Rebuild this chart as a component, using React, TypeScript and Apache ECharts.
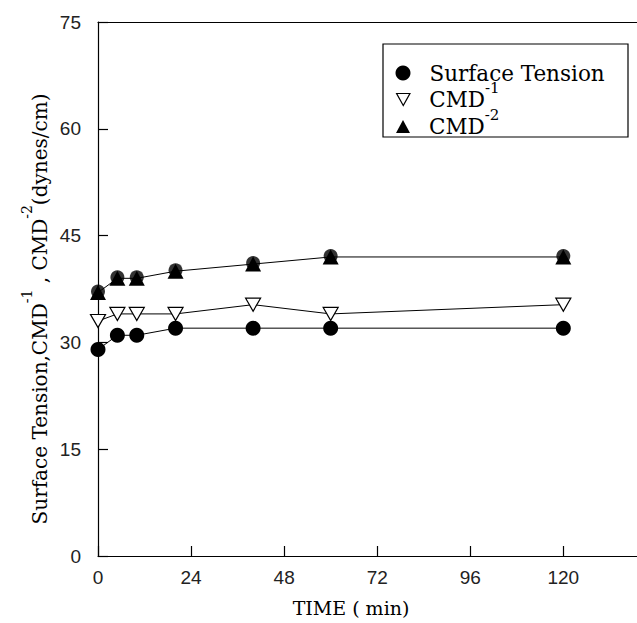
import React, { useEffect, useRef } from "react";
import * as echarts from "echarts";

const times = [0, 5, 10, 20, 40, 60, 120];
const surfaceTension = [29, 31, 31, 32, 32, 32, 32];
const cmdInv1 = [33, 34, 34, 34, 35.3, 34, 35.3];
const cmdInv2 = [37, 39, 39, 40, 41, 42, 42];
const xTickStep = 24;
const yTickStep = 15;
const xMax = 139;
const yMax = 75;
const yTitle = "{n|Surface Tension,CMD}{s|-1}{n| , CMD}{s|-2}{n|(dynes/cm)}";
const xTitle = "TIME ( min)";
const legendNames = ["Surface Tension", "CMD-1", "CMD-2"];

const SERIF = "'DejaVu Serif', serif";
const SANS = "'Liberation Sans', Arial, sans-serif";
const DOWN_TRI = "path://M0,0L10,0L5,9Z";

const pairs = (ys: number[]) => times.map((t, i) => [t, ys[i]]);

const richLegend = {
  n: { fontFamily: SERIF, fontSize: 21.5, color: "#000", padding: [0, 0, 0, 14] },
  s: { fontFamily: SERIF, fontSize: 15, color: "#000", padding: [0, 0, 24, 0] },
};

const hiddenAxisParts = {
  axisTick: { show: false },
  axisLabel: { show: false },
  splitLine: { show: false },
};

export default function App() {
  const ref = useRef<HTMLDivElement>(null);
  useEffect(() => {
    document.body.style.margin = "0";
    const chart = echarts.init(ref.current!, null, { renderer: "svg" });
    const legendBase = {
      orient: "horizontal",
      padding: 0,
      itemGap: 0,
      selectedMode: false,
      textStyle: { fontFamily: SERIF, fontSize: 21.5, color: "#000", rich: richLegend },
    };
    chart.setOption({
      animation: false,
      backgroundColor: "#fff",
      grid: {
        left: 98,
        top: 22,
        right: 0,
        bottom: 67,
        show: false,
      },
      xAxis: [
        {
          type: "value",
          min: 0,
          max: xMax,
          interval: xTickStep,
          axisLine: { show: true, onZero: false, lineStyle: { color: "#000", width: 1.2 } },
          axisTick: { show: true, inside: true, length: 10, lineStyle: { color: "#000", width: 1.2 } },
          splitLine: { show: false },
          axisLabel: { margin: 12, fontSize: 19, fontFamily: SANS, color: "#222", showMaxLabel: false },
        },
        {
          type: "value",
          position: "top",
          min: 0,
          max: xMax,
          interval: xTickStep,
          axisLine: { show: true, onZero: false, lineStyle: { color: "#000", width: 1.2 } },
          ...hiddenAxisParts,
        },
      ],
      yAxis: {
        type: "value",
        min: 0,
        max: yMax,
        interval: yTickStep,
        axisLine: { show: true, lineStyle: { color: "#000", width: 1.2 } },
        axisTick: { show: true, inside: true, length: 10, lineStyle: { color: "#000", width: 1.2 } },
        splitLine: { show: false },
        axisLabel: { margin: 17, fontSize: 19, fontFamily: SANS, color: "#222" },
      },
      legend: [
        {
          ...legendBase,
          left: 395.5,
          top: 62,
          itemWidth: 15,
          itemHeight: 15,
          data: [{ name: legendNames[0], icon: "circle", itemStyle: { color: "#000" } }],
          formatter: (name: string) => `{n|${name}}`,
        },
        {
          ...legendBase,
          left: 396,
          top: 80,
          itemWidth: 14,
          itemHeight: 12,
          data: [
            {
              name: legendNames[1],
              icon: DOWN_TRI,
              itemStyle: { color: "#fff", borderColor: "#000", borderWidth: 1.2 },
            },
          ],
          formatter: () => "{n|CMD}{s|-1}",
        },
        {
          ...legendBase,
          left: 396,
          top: 107,
          itemWidth: 14,
          itemHeight: 13,
          data: [{ name: legendNames[2], icon: "triangle", itemStyle: { color: "#000" } }],
          formatter: () => "{n|CMD}{s|-2}",
        },
      ],
      graphic: [
        {
          type: "rect",
          shape: { x: 383, y: 44, width: 245, height: 93 },
          style: { fill: "none", stroke: "#000", lineWidth: 1.2 },
          z: 1,
        },
        {
          type: "text",
          x: 40,
          y: 309,
          rotation: Math.PI / 2,
          style: {
            text: yTitle,
            textAlign: "center",
            textVerticalAlign: "middle",
            rich: {
              n: { fontFamily: SERIF, fontSize: 20, fill: "#000", color: "#000" },
              s: { fontFamily: SERIF, fontSize: 14, fill: "#000", color: "#000", padding: [0, 0, 26, 0] },
            },
          },
        },
        {
          type: "text",
          x: 351,
          y: 608,
          style: {
            text: xTitle,
            font: `19px ${SERIF}`,
            fill: "#000",
            textAlign: "center",
            textVerticalAlign: "middle",
          },
        },
      ],
      series: [
        {
          name: legendNames[0],
          type: "line",
          data: pairs(surfaceTension),
          symbol: "circle",
          symbolSize: 15,
          itemStyle: { color: "#000" },
          lineStyle: { color: "#000", width: 1 },
          z: 3,
        },
        {
          name: legendNames[1],
          type: "line",
          data: pairs(cmdInv1),
          symbol: DOWN_TRI,
          symbolSize: [15, 13],
          itemStyle: { color: "#fff", borderColor: "#000", borderWidth: 1.2 },
          lineStyle: { color: "#000", width: 1 },
          z: 3,
        },
        {
          name: legendNames[2],
          type: "line",
          data: pairs(cmdInv2),
          symbol: "triangle",
          symbolSize: [16, 15],
          itemStyle: { color: "#000" },
          lineStyle: { color: "#000", width: 1 },
          z: 3,
        },
        {
          name: "cmd2-overlay",
          type: "scatter",
          data: pairs(cmdInv2),
          symbol: "circle",
          symbolSize: 14,
          symbolOffset: [0, -1],
          itemStyle: { color: "#000" },
          z: 4,
        },
      ],
    });
    return () => chart.dispose();
  }, []);
  return <div ref={ref} style={{ width: 637, height: 623 }} />;
}
